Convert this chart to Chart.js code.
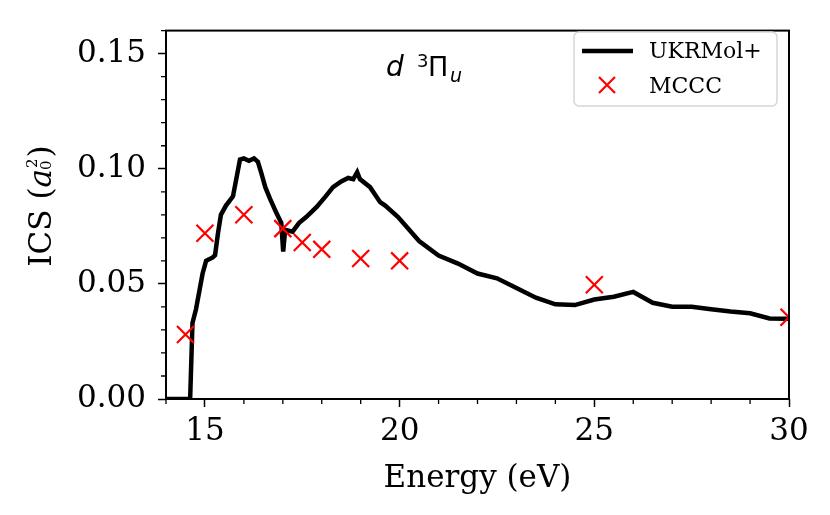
<!DOCTYPE html>
<html>
<head>
<meta charset="utf-8">
<script src="https://cdn.jsdelivr.net/npm/chart.js@4.4.0/dist/chart.umd.min.js"></script>
<style>
  body { margin: 0; background: #fff; }
  #wrap { width: 830px; height: 515px; }
</style>
</head>
<body>
<div id="wrap"><canvas id="myChart"></canvas></div>
<script>
// UKRMol+ curve
var energy = [14.0, 14.62, 14.68, 14.77, 14.94, 15.03, 15.2, 15.26, 15.33, 15.41, 15.54, 15.72,
  15.9, 16.0, 16.13, 16.26, 16.36, 16.45, 16.55, 16.67, 16.83, 16.96, 17.01, 17.06, 17.25, 17.42,
  17.6, 17.87, 18.1, 18.29, 18.5, 18.68, 18.81, 18.91, 18.98, 19.24, 19.5, 19.63, 19.96, 20.5,
  21.0, 21.5, 22.0, 22.5, 23.0, 23.5, 24.0, 24.5, 25.0, 25.5, 26.0, 26.5, 27.0, 27.5, 28.0,
  28.5, 29.0, 29.5, 30.0];
var ics = [0, 0, 0.033, 0.039, 0.0545, 0.060, 0.0615, 0.0625, 0.0714, 0.080, 0.084, 0.088,
  0.104, 0.1045, 0.1035, 0.1045, 0.103, 0.098, 0.092, 0.087, 0.081, 0.0765, 0.064, 0.0735, 0.0727, 0.0765,
  0.079, 0.0834, 0.088, 0.092, 0.0945, 0.096, 0.0955, 0.0985, 0.0955, 0.092, 0.0855, 0.084, 0.079, 0.0686,
  0.0623, 0.0588, 0.0545, 0.0524, 0.0482, 0.044, 0.0411, 0.0408, 0.0432, 0.0444, 0.0465, 0.0418, 0.0401, 0.0401, 0.039,
  0.038, 0.0372, 0.035, 0.0348];

// MCCC points
var mcccEnergy = [14.5, 15, 16, 17, 17.5, 18, 19, 20, 25, 30];
var mcccIcs = [0.028, 0.072, 0.080, 0.074, 0.068, 0.065, 0.061, 0.060, 0.0496, 0.0355];

var xTicks = [15, 20, 25, 30];
var yTicks = [0, 0.05, 0.10, 0.15];
var xMinor = [14, 16, 17, 18, 19, 21, 22, 23, 24, 26, 27, 28, 29];
var yMinor = [0.01, 0.02, 0.03, 0.04, 0.06, 0.07, 0.08, 0.09, 0.11, 0.12, 0.13, 0.14, 0.16];

var serif = "'DejaVu Serif', serif";
var sans = "'DejaVu Sans', sans-serif";

function toPoints(xs, ys) {
  return xs.map(function (x, i) { return { x: x, y: ys[i] }; });
}

var extras = {
  id: 'extras',
  afterDraw: function (chart) {
    var ctx = chart.ctx;
    var a = chart.chartArea;
    var xs = chart.scales.x, ys = chart.scales.y;
    ctx.save();

    // minor ticks
    ctx.strokeStyle = '#000';
    ctx.lineWidth = 1.3;
    ctx.beginPath();
    xMinor.forEach(function (v) {
      var px = xs.getPixelForValue(v);
      ctx.moveTo(px, a.bottom); ctx.lineTo(px, a.bottom + 5);
    });
    yMinor.forEach(function (v) {
      var py = ys.getPixelForValue(v);
      ctx.moveTo(a.left, py); ctx.lineTo(a.left - 5, py);
    });
    ctx.stroke();

    // frame
    ctx.lineWidth = 2;
    ctx.strokeRect(a.left, a.top, a.right - a.left, a.bottom - a.top);

    // x title
    ctx.fillStyle = '#000';
    ctx.font = '31px ' + serif;
    ctx.textAlign = 'center';
    ctx.textBaseline = 'alphabetic';
    ctx.fillText('Energy (eV)', (a.left + a.right) / 2, 487);

    // y title: ICS (a_0^2)
    ctx.save();
    ctx.translate(51, 206);
    ctx.rotate(-Math.PI / 2);
    ctx.textAlign = 'left';
    var f1 = '31px ' + serif, fi = 'italic 31px ' + serif, fs = '15px ' + serif;
    ctx.font = f1; var w1 = ctx.measureText('ICS (').width;
    ctx.font = fi; var wa = ctx.measureText('a').width;
    ctx.font = fs; var ws = ctx.measureText('2').width;
    ctx.font = f1; var wp = ctx.measureText(')').width;
    var total = w1 + wa + ws + 2 + wp;
    var x0 = -total / 2;
    ctx.font = f1; ctx.fillText('ICS (', x0, 0);
    ctx.font = fi; ctx.fillText('a', x0 + w1, 0);
    ctx.font = fs;
    ctx.fillText('2', x0 + w1 + wa + 1, -14);
    ctx.fillText('0', x0 + w1 + wa - 1, 0);
    ctx.font = f1; ctx.fillText(')', x0 + w1 + wa + ws + 2, 0);
    ctx.restore();

    // panel label d ^3Pi_u
    ctx.textAlign = 'left';
    ctx.font = 'italic 28px ' + sans;
    ctx.fillText('d', 386, 76);
    ctx.font = '18px ' + sans;
    ctx.fillText('3', 417, 67);
    ctx.font = '27px ' + sans;
    ctx.fillText('\u03A0', 428, 76);
    ctx.font = 'italic 19px ' + sans;
    ctx.fillText('u', 450, 82);

    // legend
    var lx = 574, ly = 32, lw = 203, lh = 74, r = 5;
    ctx.beginPath();
    ctx.moveTo(lx + r, ly);
    ctx.arcTo(lx + lw, ly, lx + lw, ly + lh, r);
    ctx.arcTo(lx + lw, ly + lh, lx, ly + lh, r);
    ctx.arcTo(lx, ly + lh, lx, ly, r);
    ctx.arcTo(lx, ly, lx + lw, ly, r);
    ctx.closePath();
    ctx.fillStyle = 'rgba(255,255,255,0.8)';
    ctx.fill();
    ctx.strokeStyle = '#d6d6d6';
    ctx.lineWidth = 1.5;
    ctx.stroke();

    ctx.strokeStyle = '#000';
    ctx.lineWidth = 4.5;
    ctx.beginPath();
    ctx.moveTo(582, 51); ctx.lineTo(633, 51);
    ctx.stroke();

    ctx.strokeStyle = '#ff0000';
    ctx.lineWidth = 2.2;
    ctx.beginPath();
    ctx.moveTo(599, 77); ctx.lineTo(615, 93);
    ctx.moveTo(615, 77); ctx.lineTo(599, 93);
    ctx.stroke();

    ctx.fillStyle = '#000';
    ctx.font = '22px ' + serif;
    ctx.fillText('UKRMol+', 649, 58);
    ctx.fillText('MCCC', 649, 93);

    ctx.restore();
  }
};

var ctx = document.getElementById('myChart').getContext('2d');

var graphData = {
  type: 'scatter',
  data: {
    datasets: [{
      label: 'UKRMol+',
      data: toPoints(energy, ics),
      showLine: true,
      borderColor: '#000',
      borderWidth: 4.5,
      pointRadius: 0,
      tension: 0,
      clip: 0,
      order: 2
    }, {
      label: 'MCCC',
      data: toPoints(mcccEnergy, mcccIcs),
      showLine: false,
      pointStyle: 'crossRot',
      pointRadius: 12,
      borderColor: '#ff0000',
      borderWidth: 2.2,
      clip: 0,
      order: 1
    }]
  },
  options: {
    responsive: true,
    maintainAspectRatio: false,
    animation: false,
    layout: { padding: { top: 20, right: 41, left: 0, bottom: 0 } },
    plugins: { legend: { display: false }, tooltip: { enabled: false } },
    scales: {
      x: {
        type: 'linear',
        min: 14, max: 30,
        afterFit: function (s) { s.height = 116; },
        afterBuildTicks: function (s) { s.ticks = xTicks.map(function (v) { return { value: v }; }); },
        grid: { drawOnChartArea: false, drawTicks: true, tickLength: 8, color: '#000', tickWidth: 1.5 },
        border: { display: false },
        ticks: {
          color: '#000', padding: 6, maxRotation: 0,
          font: { family: serif, size: 31 },
          callback: function (v) { return String(v); }
        }
      },
      y: {
        type: 'linear',
        min: 0, max: 0.16,
        afterFit: function (s) { s.width = 166; },
        afterBuildTicks: function (s) { s.ticks = yTicks.map(function (v) { return { value: v }; }); },
        grid: { drawOnChartArea: false, drawTicks: true, tickLength: 8, color: '#000', tickWidth: 1.5 },
        border: { display: false },
        ticks: {
          color: '#000', padding: 12,
          font: { family: serif, size: 31 },
          callback: function (v) { return Number(v).toFixed(2); }
        }
      }
    }
  },
  plugins: [extras]
};

var myChart = new Chart(ctx, graphData);
</script>
</body>
</html>
